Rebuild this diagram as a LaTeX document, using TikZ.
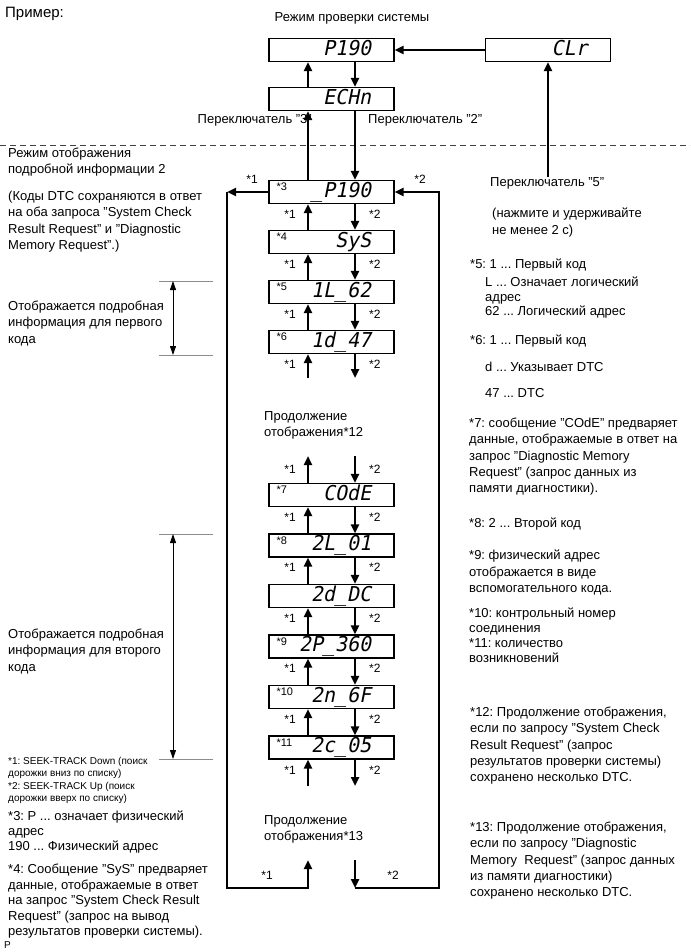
\documentclass[tikz,border=0pt]{standalone}
\usepackage{fontspec}
\setmainfont{Liberation Sans}
\newfontfamily\lcdfont[FakeSlant=0.2,FakeStretch=0.97]{DejaVu Sans Mono}
\usetikzlibrary{arrows.meta,positioning}
\frenchspacing

\begin{document}
\begin{tikzpicture}[x=1pt, y=-1pt,
  disp/.style={draw, line width=1.2pt, minimum width=125pt, minimum height=23pt,
    inner sep=0pt, text width=79pt, align=right, text height=15pt, text depth=4.8pt,
    font=\lcdfont\fontsize{20.5}{20.5}\selectfont},
  flow/.style={line width=2.4pt, -{Triangle[length=9pt, width=8pt]}},
  lab/.style={font=\fontsize{12}{12}\selectfont, inner sep=0pt},
  tag/.style={font=\fontsize{11}{11}\selectfont, inner sep=0pt, anchor=north west},
  txt/.style={anchor=north west, inner sep=0pt, align=left,
    font=\fontsize{13}{16.2}\selectfont},
  dim/.style={line width=0.9pt, {Triangle[length=9pt, width=6pt]}-{Triangle[length=9pt, width=6pt]}},
  tick/.style={line width=0.8pt, black!45}]

  \useasboundingbox[fill=white] (0,0) rectangle (690,952);

  \draw[black!75, line width=0.9pt, dash pattern=on 6pt off 4pt] (0,145) -- (690,145);

  \node[disp] (p190) at (331.5,50) {P190};
  \node[disp] (clr) at (548,50) {CLr};
  \node[disp] (echn) at (331.5,99) {ECHn};

  \foreach[count=\i] \y/\txt in {192/\_P190, 242/SyS, 292/1L\_62, 342/1d\_47}
    \node[disp] (u\i) at (331.5,\y) {\txt};
  \foreach[count=\i] \y/\txt in {495/COdE, 545.5/2L\_01, 596/2d\_DC,
      646.5/2P\_360, 697/2n\_6F, 747.5/2c\_05}
    \node[disp] (l\i) at (331.5,\y) {\txt};
  \foreach \n/\s in {u1/3, u2/4, u3/5, u4/6, l1/7, l2/8, l4/9, l5/10, l6/11}
    \node[tag] (t\s) at ([xshift=8pt, yshift=-3pt]\n.north west) {*\s};

  \draw[flow] (clr.west) -- (p190.east);
  \draw[flow] ([xshift=-23.5pt]echn.north) -- ([xshift=-23.5pt]p190.south);
  \draw[flow] ([xshift=23.5pt]p190.south) -- ([xshift=23.5pt]echn.north);
  \draw[flow] ([xshift=-23.5pt]u1.north) -- ([xshift=-23.5pt]echn.south);
  \draw[flow] ([xshift=23.5pt]echn.south) -- ([xshift=23.5pt]u1.north);

  \foreach \a/\b in {u1/u2, u2/u3, u3/u4, l1/l2, l2/l3, l3/l4, l4/l5, l5/l6} {
    \draw[flow] ([xshift=-23.5pt]\b.north) -- node[lab, left=11pt, yshift=3pt] {*1} ([xshift=-23.5pt]\a.south);
    \draw[flow] ([xshift=23.5pt]\a.south) -- node[lab, right=13pt, yshift=3pt] {*2} ([xshift=23.5pt]\b.north);
  }

  \coordinate (a1) at (308,378);
  \coordinate (a2) at (355,378);
  \coordinate (b1) at (308,456);
  \coordinate (b2) at (355,456);
  \coordinate (c1) at (308,786);
  \coordinate (c2) at (355,786);
  \coordinate (e1) at (308,860);
  \coordinate (e2) at (355,860);
  \coordinate (bl) at (227,888);
  \coordinate (br) at (439,888);

  \draw[flow] (a1) -- node[lab, left=11pt, yshift=2pt] {*1} ([xshift=-23.5pt]u4.south);
  \draw[flow] ([xshift=23.5pt]u4.south) -- node[lab, right=13pt, yshift=2pt] {*2} (a2);
  \draw[flow] ([xshift=-23.5pt]l1.north) -- node[lab, left=11pt] {*1} (b1);
  \draw[flow] (b2) -- node[lab, right=13pt] {*2} ([xshift=23.5pt]l1.north);
  \draw[flow] (c1) -- node[lab, left=11pt, yshift=2pt] {*1} ([xshift=-23.5pt]l6.south);
  \draw[flow] ([xshift=23.5pt]l6.south) -- node[lab, right=13pt, yshift=2pt] {*2} (c2);

  \draw[flow] (u1.west) -- (u1.west -| bl);
  \draw[flow] (u1.west -| bl) -- (bl) -- (bl -| e1) -- (e1);
  \draw[flow] (e2) -- (e2 |- br);
  \draw[flow] (e2 |- br) -- (br) -- (br |- u1.east) -- (u1.east);

  \node[lab] (k1) at (252,179) {*1};
  \node[lab] (k2) at (420,179) {*2};
  \node[lab] (k3) at (267,875) {*1};
  \node[lab] (k4) at (393,875) {*2};

  \foreach \ya/\yb in {281/355, 534/759} {
    \draw[tick] (159,\ya) -- (213,\ya) (159,\yb) -- (213,\yb);
    \draw[dim] (173,\ya) -- (173,\yb);
  }

  \node[txt, font=\fontsize{15}{18}\selectfont] (ex) at (5,7) {Пример:};
  \node[txt, anchor=north] (chk) at (352,12) {Режим проверки системы};
  \node[txt, anchor=north east] (sw3) at (312,114) {Переключатель "3"};
  \node[txt] (sw2) at (368,114) {Переключатель "2"};
  \node[txt] (sw5) at (490,177) {Переключатель "5"};
  \draw[flow] (sw5.north -| clr.south) -- (clr.south);
  \node[txt] (hold) at (492,208) {(нажмите и удерживайте\\не менее 2 с)};

  \node[txt] (det) at (8,148) {Режим отображения\\подробной информации 2};
  \node[txt] (both) at (8,191) {(Коды DTC сохраняются в ответ\\на оба запроса "System Check\\Result Request" и "Diagnostic\\Memory Request".)};
  \node[txt] (first) at (8,301) {Отображается подробная\\информация для первого\\кода};
  \node[txt] (second) at (8,629) {Отображается подробная\\информация для второго\\кода};
  \node[txt] (cont12) at (264,411) {Продолжение\\отображения*12};
  \node[txt] (cont13) at (264,815) {Продолжение\\отображения*13};

  \node[txt, font=\fontsize{10}{12.3}\selectfont] (seek) at (8,757) {*1: SEEK-TRACK Down (поиск\\дорожки вниз по списку)\\{}*2: SEEK-TRACK Up (поиск\\дорожки вверх по списку)};
  \node[txt, font=\fontsize{13}{15}\selectfont] (n3) at (8,811) {*3: P ... означает физический\\адрес\\190 ... Физический адрес};
  \node[txt, font=\fontsize{13}{15.5}\selectfont] (n4) at (8,864) {*4: Сообщение "SyS" предваряет\\данные, отображаемые в ответ\\на запрос "System Check Result\\Request" (запрос на вывод\\результатов проверки системы).};
  \node[txt, font=\fontsize{10}{12}\selectfont] (pg) at (4,941) {P};

  \node[txt] (n5) at (470,259) {*5: 1 ... Первый код};
  \node[txt, font=\fontsize{13}{14.5}\selectfont] (n5b) at (485,277) {L ... Означает логический\\адрес\\62 ... Логический адрес};
  \node[txt] (n6) at (470,335) {*6: 1 ... Первый код};
  \node[txt] (n6b) at (485,362) {d ... Указывает DTC};
  \node[txt] (n6c) at (485,388) {47 ... DTC};
  \node[txt] (n7) at (469,418) {*7: сообщение "COdE" предваряет\\данные, отображаемые в ответ на\\запрос "Diagnostic Memory\\Request" (запрос данных из\\памяти диагностики).};
  \node[txt] (n8) at (469,518) {*8: 2 ... Второй код};
  \node[txt] (n9) at (469,550) {*9: физический адрес\\отображается в виде\\вспомогательного кода.};
  \node[txt, font=\fontsize{13}{15}\selectfont] (n10) at (469,608) {*10: контрольный номер\\соединения\\{}*11: количество\\возникновений};
  \node[txt] (n12) at (470,707) {*12: Продолжение отображения,\\если по запросу "System Check\\Result Request" (запрос\\результатов проверки системы)\\сохранено несколько DTC.};
  \node[txt] (n13) at (470,822) {*13: Продолжение отображения,\\если по запросу "Diagnostic\\Memory\ \ Request" (запрос данных\\из памяти диагностики)\\сохранено несколько DTC.};
\end{tikzpicture}
\end{document}
